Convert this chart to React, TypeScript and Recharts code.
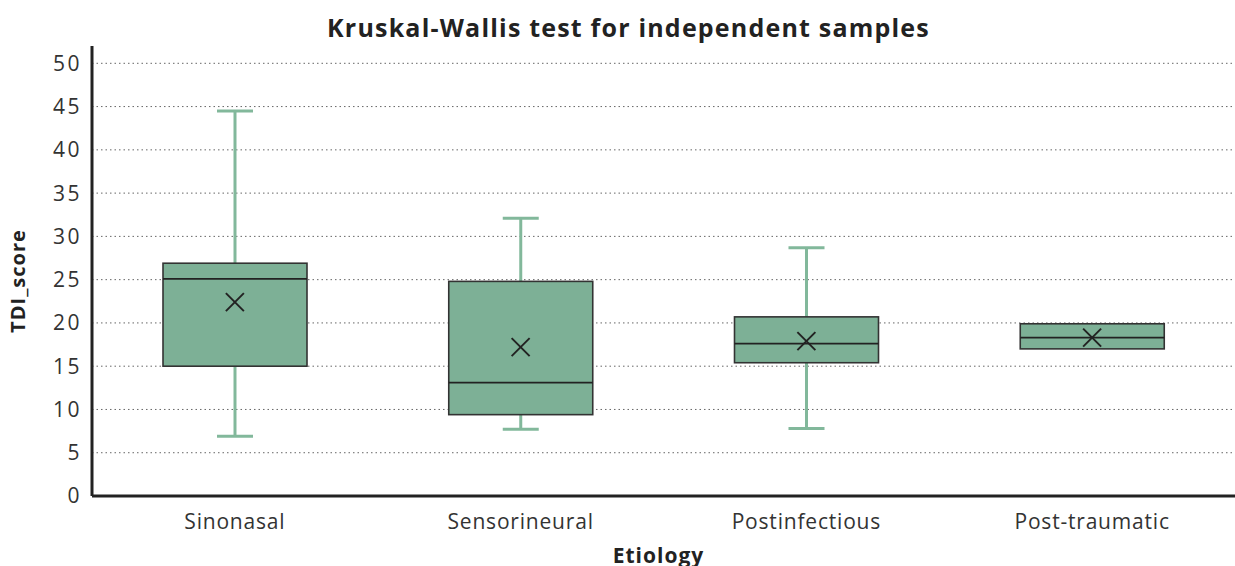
import React from 'react';
import { ComposedChart, Bar, Scatter, XAxis, YAxis, CartesianGrid } from 'recharts';

const categories = ['Sinonasal', 'Sensorineural', 'Postinfectious', 'Post-traumatic'];
const minValues = [6.9, 7.7, 7.8, 17.0];
const q1Values = [15.0, 9.4, 15.4, 17.0];
const medianValues = [25.1, 13.1, 17.6, 18.3];
const q3Values = [26.9, 24.8, 20.7, 19.9];
const maxValues = [44.5, 32.1, 28.7, 19.9];
const meanValues = [22.4, 17.2, 17.9, 18.3];
const yTicks = [0, 5, 10, 15, 20, 25, 30, 35, 40, 45, 50];

const data = categories.map((name, i) => ({
  name,
  range: [minValues[i], maxValues[i]],
  min: minValues[i],
  q1: q1Values[i],
  median: medianValues[i],
  q3: q3Values[i],
  max: maxValues[i],
  mean: meanValues[i],
}));

const FONT = '"Open Sans", sans-serif';
const BOX_FILL = '#7db096';
const WHISKER = '#82b89b';
const DARK = '#222222';

const BoxShape = (props: any) => {
  const { x, y, width, height, payload } = props;
  const { min, max, q1, median, q3 } = payload;
  const top = Math.min(y, y + height);
  const h = Math.abs(height);
  const toY = (v: number) => (max === min ? top : top + ((max - v) / (max - min)) * h);
  const cx = x + width / 2;
  const cap = 18;
  const yMin = toY(min);
  const yMax = toY(max);
  const yQ1 = toY(q1);
  const yQ3 = toY(q3);
  const yMed = toY(median);
  return (
    <g>
      <line x1={cx} x2={cx} y1={yMax} y2={yQ3} stroke={WHISKER} strokeWidth={3} />
      <line x1={cx} x2={cx} y1={yQ1} y2={yMin} stroke={WHISKER} strokeWidth={3} />
      {max > q3 && <line x1={cx - cap} x2={cx + cap} y1={yMax} y2={yMax} stroke={WHISKER} strokeWidth={3} />}
      {min < q1 && <line x1={cx - cap} x2={cx + cap} y1={yMin} y2={yMin} stroke={WHISKER} strokeWidth={3} />}
      <rect x={x} y={yQ3} width={width} height={yQ1 - yQ3} fill={BOX_FILL} stroke="#333" strokeWidth={1.6} />
      <line x1={x} x2={x + width} y1={yMed} y2={yMed} stroke="#222" strokeWidth={1.8} />
    </g>
  );
};

const MeanShape = (props: any) => {
  const { cx, cy } = props;
  const s = 9;
  return (
    <g>
      <line x1={cx - s} x2={cx + s} y1={cy - s} y2={cy + s} stroke={DARK} strokeWidth={2} />
      <line x1={cx - s} x2={cx + s} y1={cy + s} y2={cy - s} stroke={DARK} strokeWidth={2} />
    </g>
  );
};

export default function App() {
  return (
    <div style={{ position: 'absolute', left: 0, top: 0, width: 1235, height: 566, background: '#fff', fontFamily: FONT, overflow: 'hidden' }}>
      <ComposedChart width={1235} height={566} data={data} margin={{ top: 46, right: 0, left: 0, bottom: 0 }}>
        <CartesianGrid
          horizontal
          vertical={false}
          horizontalValues={yTicks.filter((t) => t > 0)}
          stroke="#666"
          strokeDasharray="1.5 3"
        />
        <XAxis
          dataKey="name"
          height={70}
          tickLine={false}
          tickSize={0}
          tickMargin={18}
          axisLine={{ stroke: DARK, strokeWidth: 3 }}
          tick={{ fontSize: 21, fill: '#333', fontFamily: FONT, letterSpacing: 0.8 }}
        />
        <YAxis
          width={92}
          domain={[0, 52]}
          ticks={yTicks}
          tickLine={false}
          tickSize={0}
          tickMargin={10}
          axisLine={{ stroke: DARK, strokeWidth: 3 }}
          tick={{ fontSize: 21, fill: '#333', fontFamily: FONT, letterSpacing: 2.5 }}
          allowDataOverflow
        />
        <Bar dataKey="range" barSize={144} shape={<BoxShape />} isAnimationActive={false} />
        <Scatter dataKey="mean" shape={<MeanShape />} isAnimationActive={false} />
      </ComposedChart>
      <div style={{ position: 'absolute', left: 92, width: 1143, top: 10, textAlign: 'center', fontSize: 25, fontWeight: 700, color: '#222', lineHeight: '34px', letterSpacing: 1.2, marginLeft: -35 }}>
        Kruskal-Wallis test for independent samples
      </div>
      <div style={{ position: 'absolute', left: 92, width: 1143, top: 540, textAlign: 'center', fontSize: 21, fontWeight: 700, color: '#222', lineHeight: '30px', letterSpacing: 1, marginLeft: -5 }}>
        Etiology
      </div>
      <div style={{ position: 'absolute', left: 18, top: 281, width: 0, height: 0 }}>
        <div style={{ position: 'absolute', left: -100, top: -15, width: 200, textAlign: 'center', transform: 'rotate(-90deg)', fontSize: 20, fontWeight: 700, color: '#222', lineHeight: '30px', letterSpacing: 1 }}>
          TDI_score
        </div>
      </div>
    </div>
  );
}
